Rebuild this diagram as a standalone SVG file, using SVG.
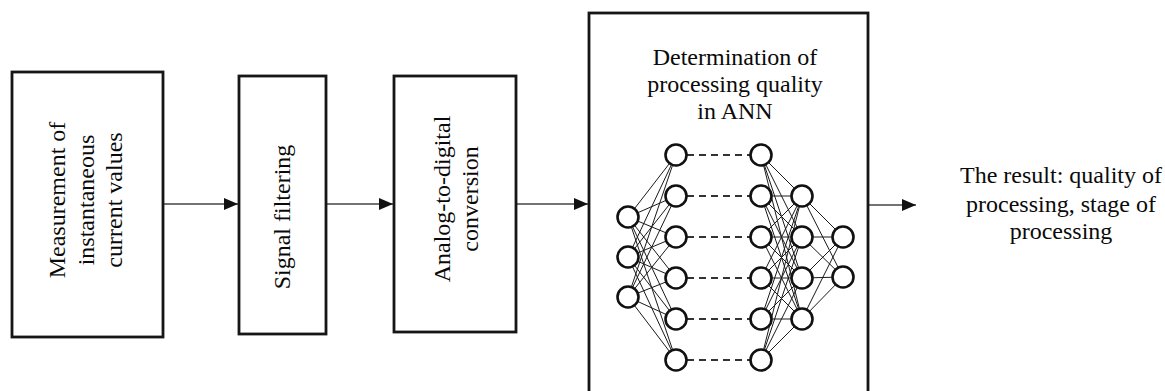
<svg xmlns="http://www.w3.org/2000/svg" width="1165" height="391" viewBox="0 0 1165 391">
<defs>
<style>
.box{fill:#fff;stroke:#161616;stroke-width:2.8}
.t{font-family:"Liberation Serif","Times New Roman",serif;font-size:24px;fill:#0a0a0a}
.arr{stroke:#444;stroke-width:1.6;fill:none}
.nn{stroke:#1a1a1a;stroke-width:1;fill:none}
.dash{stroke:#333;stroke-width:2.2;stroke-dasharray:7 5;fill:none}
.node{fill:#fff;stroke:#111;stroke-width:2.6}
</style>
<marker id="ah" viewBox="0 0 14 12" refX="14" refY="6" markerWidth="14" markerHeight="12" markerUnits="userSpaceOnUse" orient="auto">
<path d="M0,0 L14,6 L0,12 Z" fill="#111"/>
</marker>
</defs>
<rect width="1165" height="391" fill="#fff"/>

<g id="connectors">
<line class="arr" x1="164" y1="204" x2="238" y2="204" marker-end="url(#ah)"/>
<line class="arr" x1="327" y1="204" x2="393" y2="204" marker-end="url(#ah)"/>
<line class="arr" x1="517" y1="204" x2="588" y2="204" marker-end="url(#ah)"/>
<line class="arr" x1="869" y1="205" x2="916" y2="205" marker-end="url(#ah)"/>
</g>

<g id="node-measurement">
<rect class="box" x="12" y="72" width="151" height="265"/>
<text class="t" transform="translate(0,200) rotate(-90)" text-anchor="middle"><tspan x="0" y="65">Measurement of</tspan><tspan x="0" y="93.5">instantaneous</tspan><tspan x="0" y="122">current values</tspan></text>
</g>

<g id="node-filtering">
<rect class="box" x="239" y="76" width="87" height="258"/>
<text class="t" transform="translate(0,217) rotate(-90)" text-anchor="middle"><tspan x="0" y="290">Signal filtering</tspan></text>
</g>

<g id="node-adc">
<rect class="box" x="394" y="76" width="122" height="256"/>
<text class="t" transform="translate(0,199) rotate(-90)" text-anchor="middle"><tspan x="0" y="450">Analog-to-digital</tspan><tspan x="0" y="478">conversion</tspan></text>
</g>

<g id="node-ann">
<rect class="box" x="589" y="13" width="279" height="390"/>
<text class="t" text-anchor="middle"><tspan x="735" y="65">Determination of</tspan><tspan x="735" y="92">processing quality</tspan><tspan x="735" y="119">in ANN</tspan></text>
<g id="ann-links">
<path class="nn" d="M628,217L676,155M628,217L676,196M628,217L676,237M628,217L676,278M628,217L676,319M628,217L676,360
M628,257L676,155M628,257L676,196M628,257L676,237M628,257L676,278M628,257L676,319M628,257L676,360
M628,297L676,155M628,297L676,196M628,297L676,237M628,297L676,278M628,297L676,319M628,297L676,360
M761,155L802,196M761,155L802,237M761,155L802,278M761,155L802,319
M761,196L802,196M761,196L802,237M761,196L802,278M761,196L802,319
M761,237L802,196M761,237L802,237M761,237L802,278M761,237L802,319
M761,278L802,196M761,278L802,237M761,278L802,278M761,278L802,319
M761,319L802,196M761,319L802,237M761,319L802,278M761,319L802,319
M761,360L802,196M761,360L802,237M761,360L802,278M761,360L802,319
M802,196L843,237M802,196L843,277M802,237L843,237M802,237L843,277
M802,278L843,237M802,278L843,277M802,319L843,237M802,319L843,277"/>
<path class="dash" d="M687,155H750M687,196H750M687,237H750M687,278H750M687,319H750M687,360H750"/>
</g>
<g id="ann-nodes">
<circle class="node" cx="628" cy="217" r="10.5"/>
<circle class="node" cx="628" cy="257" r="10.5"/>
<circle class="node" cx="628" cy="297" r="10.5"/>
<circle class="node" cx="676" cy="155" r="10.5"/>
<circle class="node" cx="676" cy="196" r="10.5"/>
<circle class="node" cx="676" cy="237" r="10.5"/>
<circle class="node" cx="676" cy="278" r="10.5"/>
<circle class="node" cx="676" cy="319" r="10.5"/>
<circle class="node" cx="676" cy="360" r="10.5"/>
<circle class="node" cx="761" cy="155" r="10.5"/>
<circle class="node" cx="761" cy="196" r="10.5"/>
<circle class="node" cx="761" cy="237" r="10.5"/>
<circle class="node" cx="761" cy="278" r="10.5"/>
<circle class="node" cx="761" cy="319" r="10.5"/>
<circle class="node" cx="761" cy="360" r="10.5"/>
<circle class="node" cx="802" cy="196" r="10.5"/>
<circle class="node" cx="802" cy="237" r="10.5"/>
<circle class="node" cx="802" cy="278" r="10.5"/>
<circle class="node" cx="802" cy="319" r="10.5"/>
<circle class="node" cx="843" cy="237" r="10.5"/>
<circle class="node" cx="843" cy="277" r="10.5"/>
</g>
</g>

<g id="node-result">
<text class="t" text-anchor="middle"><tspan x="1061" y="183">The result: quality of</tspan><tspan x="1061" y="211.5">processing, stage of</tspan><tspan x="1061" y="239">processing</tspan></text>
</g>
</svg>
